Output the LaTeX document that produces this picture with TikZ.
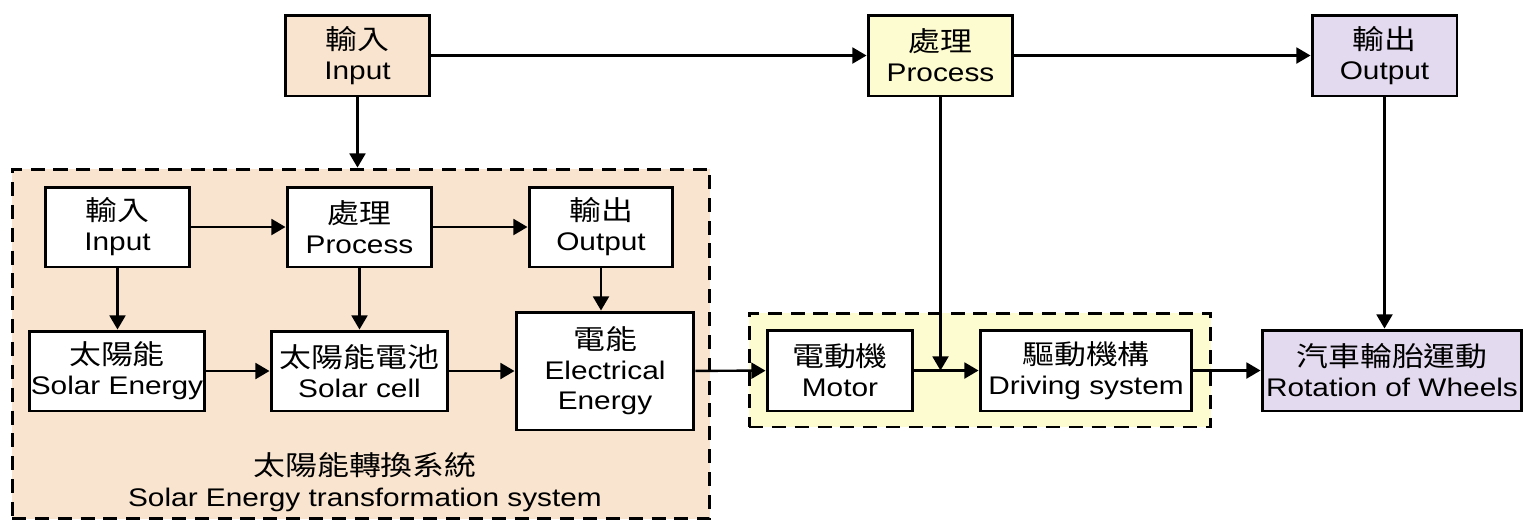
\documentclass[tikz,border=0pt]{standalone}
\usepackage{fontspec}
\setmainfont{Liberation Sans}[FakeStretch=1.17]
\newfontfamily\cjk{Noto Sans CJK TC}[FakeStretch=1.17,Scale=1.07]
\usetikzlibrary{arrows.meta}
\definecolor{peach}{RGB}{248,228,207}
\definecolor{lemon}{RGB}{253,251,208}
\definecolor{lilac}{RGB}{228,218,240}

\begin{document}
\begin{tikzpicture}[x=0.02cm,y=-0.02cm,
      b/.style={draw,line width=1.7pt,fill=white,align=center,inner sep=0pt,
        minimum height=1.62cm,font=\fontsize{14.5}{17}\selectfont},
      grp/.style={draw,line width=1.7pt,dash pattern=on 8pt off 5pt,inner sep=0pt},
      arr/.style={-{Triangle[length=8pt,width=9pt]},line width=1.4pt}
    ]
      \useasboundingbox (0,0) rectangle (1526,522);

      % top row
      \node[b,fill=peach,minimum width=2.9cm] (in) at (357.5,55.5) {{\cjk 輸入}\\Input};
      \node[b,fill=lemon,minimum width=2.9cm] (pr) at (940.5,55.5) {{\cjk 處理}\\Process};
      \node[b,fill=lilac,minimum width=2.9cm] (out) at (1384.5,55.5) {{\cjk 輸出}\\Output};

      % solar energy transformation system
      \node[grp,fill=peach,minimum width=13.96cm,minimum height=7cm] (sys) at (361,344) {};
      \node[b,minimum width=2.9cm,minimum height=1.6cm] (inA) at (117.5,227) {{\cjk 輸入}\\Input};
      \node[b,minimum width=2.9cm,minimum height=1.6cm] (prA) at (359.5,227) {{\cjk 處理}\\Process};
      \node[b,minimum width=2.88cm,minimum height=1.6cm] (outA) at (601,227) {{\cjk 輸出}\\Output};
      \node[b,minimum width=3.52cm,minimum height=1.6cm] (sun) at (117,371) {{\cjk 太陽能}\\Solar Energy};
      \node[b,minimum width=3.54cm,minimum height=1.6cm] (cell) at (359.5,371) {{\cjk 太陽能電池}\\Solar cell};
      \node[b,minimum width=3.56cm,minimum height=2.36cm] (elec) at (605,371) {{\cjk 電能}\\Electrical\\Energy};
      \node[align=center,font=\fontsize{14.5}{18}\selectfont] (sysname) at (365,482)
        {{\cjk 太陽能轉換系統}\\Solar Energy transformation system};

      % driving part
      \node[grp,fill=lemon,minimum width=9.24cm,minimum height=2.28cm] (drvgrp) at (980,370) {};
      \node[b,minimum width=2.92cm] (motor) at (840,370.5) {{\cjk 電動機}\\Motor};
      \node[b,minimum width=4.24cm] (drv) at (1086,370.5) {{\cjk 驅動機構}\\Driving system};
      \node[b,fill=lilac,minimum width=5.2cm] (wheel) at (1392,370.5) {{\cjk 汽車輪胎運動}\\Rotation of Wheels};

      % arrows
      \draw[arr] (in) -- (pr);
      \draw[arr] (pr) -- (out);
      \draw[arr] (in.south) -- (in |- sys.north);
      \foreach \a/\b in {inA/prA,prA/outA,sun/cell,cell/elec,elec/motor,motor/drv,drv/wheel} {
        \draw[arr] (\a) -- (\b);
      }
      \draw[arr] (inA.south) -- (inA |- sun.north);
      \draw[arr] (prA.south) -- (prA |- cell.north);
      \draw[arr] (outA.south) -- (outA |- elec.north);
      \draw[arr] (pr.south) -- (pr |- motor.east);
      \draw[arr] (out.south) -- (out |- wheel.north);
    \end{tikzpicture}
\end{document}
